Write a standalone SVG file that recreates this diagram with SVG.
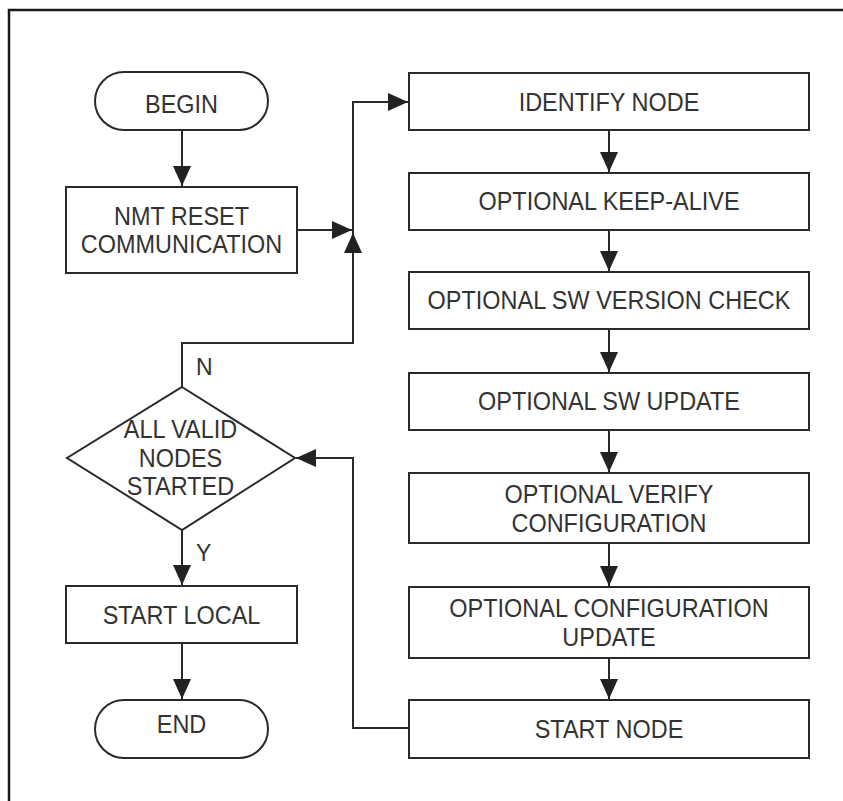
<svg xmlns="http://www.w3.org/2000/svg" width="843" height="801" viewBox="0 0 843 801">
  <style>
    .shape { fill: #ffffff; stroke: #2a2a2a; stroke-width: 2; }
    .wire { fill: none; stroke: #2a2a2a; stroke-width: 2; }
    .label { font-family: "Liberation Sans", Arial, sans-serif; font-size: 25.5px; fill: #333333; text-anchor: middle; }
    .branch { font-family: "Liberation Sans", Arial, sans-serif; font-size: 23px; fill: #333333; }
  </style>
  <defs>
    <marker id="arrow" markerUnits="userSpaceOnUse" markerWidth="20" markerHeight="18" refX="20" refY="9" orient="auto">
      <path d="M0,0 L20,9 L0,18 Z" fill="#222222"/>
    </marker>
  </defs>

  <rect width="843" height="801" fill="#ffffff"/>
  <!-- page frame (only top and left edges fall inside the canvas) -->
  <path d="M9,801 V10 H843" fill="none" stroke="#1a1a1a" stroke-width="2.5"/>

  <!-- connectors -->
  <g id="connectors">
    <path class="wire" d="M182,130 V186" marker-end="url(#arrow)"/>
    <path class="wire" d="M297,230 H352" marker-end="url(#arrow)"/>
    <path class="wire" d="M182,387 V343 H353 V233" marker-end="url(#arrow)"/>
    <path class="wire" d="M353,233 V102 H408" marker-end="url(#arrow)"/>
    <path class="wire" d="M609,130 V172" marker-end="url(#arrow)"/>
    <path class="wire" d="M609,230 V271" marker-end="url(#arrow)"/>
    <path class="wire" d="M609,329 V372" marker-end="url(#arrow)"/>
    <path class="wire" d="M609,430 V472" marker-end="url(#arrow)"/>
    <path class="wire" d="M609,543 V586" marker-end="url(#arrow)"/>
    <path class="wire" d="M609,658 V699" marker-end="url(#arrow)"/>
    <path class="wire" d="M409,728 H353 V458 H296" marker-end="url(#arrow)"/>
    <path class="wire" d="M182,530 V585" marker-end="url(#arrow)"/>
    <path class="wire" d="M182,643 V699" marker-end="url(#arrow)"/>
    <text class="branch" x="196" y="375">N</text>
    <text class="branch" x="196" y="561">Y</text>
  </g>

  <!-- left column -->
  <g id="begin">
    <rect class="shape" x="95" y="72" width="173" height="58" rx="29" ry="29"/>
    <text class="label" transform="translate(181.5,113) scale(0.92,1)">BEGIN</text>
  </g>
  <g id="nmt-reset">
    <rect class="shape" x="66" y="187" width="231" height="86"/>
    <text class="label" transform="translate(181.5,225) scale(0.92,1)">NMT RESET</text>
    <text class="label" transform="translate(181.5,253) scale(0.92,1)">COMMUNICATION</text>
  </g>
  <g id="all-started">
    <polygon class="shape" points="182,387 295,458 182,530 67,458"/>
    <text class="label" transform="translate(180.5,438) scale(0.92,1)">ALL VALID</text>
    <text class="label" transform="translate(180.5,467) scale(0.92,1)">NODES</text>
    <text class="label" transform="translate(180.5,495) scale(0.92,1)">STARTED</text>
  </g>
  <g id="start-local">
    <rect class="shape" x="66" y="586" width="231" height="57"/>
    <text class="label" transform="translate(181.5,624) scale(0.92,1)">START LOCAL</text>
  </g>
  <g id="end">
    <rect class="shape" x="95" y="700" width="173" height="58" rx="29" ry="29"/>
    <text class="label" transform="translate(181.5,733) scale(0.92,1)">END</text>
  </g>

  <!-- right column -->
  <g id="identify-node">
    <rect class="shape" x="409" y="73" width="400" height="57"/>
    <text class="label" transform="translate(609,111) scale(0.92,1)">IDENTIFY NODE</text>
  </g>
  <g id="keep-alive">
    <rect class="shape" x="409" y="173" width="400" height="57"/>
    <text class="label" transform="translate(609,210) scale(0.92,1)">OPTIONAL KEEP-ALIVE</text>
  </g>
  <g id="sw-version-check">
    <rect class="shape" x="409" y="272" width="400" height="57"/>
    <text class="label" transform="translate(609,309) scale(0.92,1)">OPTIONAL SW VERSION CHECK</text>
  </g>
  <g id="sw-update">
    <rect class="shape" x="409" y="373" width="400" height="57"/>
    <text class="label" transform="translate(609,410) scale(0.92,1)">OPTIONAL SW UPDATE</text>
  </g>
  <g id="verify-config">
    <rect class="shape" x="409" y="473" width="400" height="70"/>
    <text class="label" transform="translate(609,503) scale(0.92,1)">OPTIONAL VERIFY</text>
    <text class="label" transform="translate(609,532) scale(0.92,1)">CONFIGURATION</text>
  </g>
  <g id="config-update">
    <rect class="shape" x="409" y="587" width="400" height="71"/>
    <text class="label" transform="translate(609,617) scale(0.92,1)">OPTIONAL CONFIGURATION</text>
    <text class="label" transform="translate(609,646) scale(0.92,1)">UPDATE</text>
  </g>
  <g id="start-node">
    <rect class="shape" x="409" y="700" width="400" height="58"/>
    <text class="label" transform="translate(609,738) scale(0.92,1)">START NODE</text>
  </g>
</svg>
